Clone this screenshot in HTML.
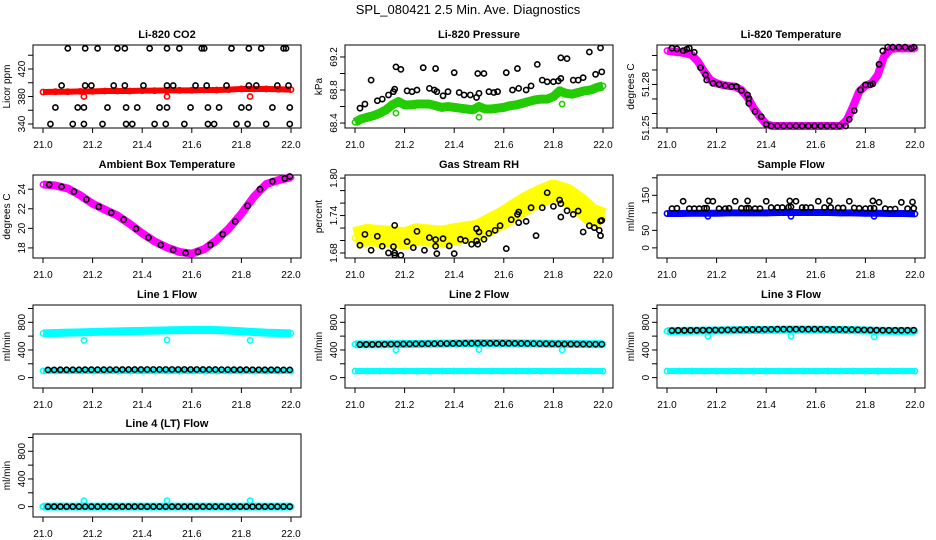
<!DOCTYPE html>
<html><head><meta charset="utf-8">
<style>
html,body{margin:0;padding:0;background:#fff;}
svg{display:block;font-family:"Liberation Sans",Arial,sans-serif;}
</style></head>
<body>
<svg id="chart" width="936" height="540" viewBox="0 0 936 540" xmlns="http://www.w3.org/2000/svg">
<rect width="936" height="540" fill="#fff"/>
<text x="468" y="14" text-anchor="middle" font-size="13">SPL_080421  2.5 Min. Ave. Diagnostics</text>
</svg>
<script>
// ---------- DATA ----------
const xTicks = [21.0, 21.2, 21.4, 21.6, 21.8, 22.0];
const xTickLabels = ["21.0", "21.2", "21.4", "21.6", "21.8", "22.0"];
const bandX = [21.0,21.05,21.1,21.15,21.2,21.25,21.3,21.35,21.4,21.45,21.5,21.55,21.6,21.65,21.7,21.75,21.8,21.85,21.9,21.95,22.0];
const outX = [21.165, 21.5, 21.835];

// CO2
const co2Red = [386.5,387,387,387.5,387.5,388,388,388,388.5,388.5,389,389,389,389.5,389.5,390,391,391,391,390.5,390];
const co2RedOut = [380, 380, 380];
const co2BlackX = [21.10,21.17,21.22,21.30,21.33,21.43,21.50,21.55,21.64,21.65,21.76,21.83,21.88,21.97,21.98,
  21.075,21.17,21.195,21.285,21.33,21.405,21.50,21.525,21.615,21.66,21.74,21.83,21.86,21.945,21.99,
  21.05,21.14,21.165,21.26,21.335,21.38,21.47,21.50,21.595,21.665,21.71,21.80,21.83,21.925,21.995,
  21.03,21.12,21.165,21.24,21.335,21.36,21.45,21.495,21.57,21.665,21.69,21.78,21.825,21.90,21.995];
const co2BlackY = [450,450,450,450,450,450,450,450,450,450,450,450,450,450,450,
  396,396,396,396,396,396,396,396,396,396,396,396,396,396,396,
  364,364,364,364,364,364,364,364,364,364,364,364,364,364,364,
  340,340,340,340,340,340,340,340,340,340,340,340,340,340,340];

// Pressure
const presX = [21.0,21.025,21.05,21.075,21.1,21.125,21.15,21.175,21.2,21.225,21.25,21.275,21.3,21.325,21.35,21.375,21.4,21.425,21.45,21.475,21.5,21.525,21.55,21.575,21.6,21.625,21.65,21.675,21.7,21.725,21.75,21.775,21.8,21.825,21.85,21.875,21.9,21.925,21.95,21.975,22.0];
const presGreen = [68.41,68.45,68.47,68.49,68.52,68.56,68.62,68.66,68.62,68.62,68.63,68.63,68.63,68.61,68.59,68.60,68.59,68.58,68.57,68.56,68.60,68.57,68.57,68.58,68.59,68.61,68.62,68.64,68.66,68.68,68.69,68.69,68.72,68.79,68.76,68.75,68.77,68.79,68.80,68.83,68.85];
const presGreenOut = [68.52, 68.47, 68.63];
const presBlackX = [21.02,21.04,21.065,21.09,21.11,21.135,21.155,21.16,21.165,21.185,21.21,21.23,21.25,21.275,21.30,21.32,21.325,21.33,21.355,21.375,21.40,21.42,21.44,21.465,21.49,21.495,21.50,21.52,21.54,21.56,21.575,21.61,21.635,21.655,21.66,21.69,21.71,21.735,21.755,21.775,21.80,21.82,21.83,21.83,21.855,21.88,21.90,21.92,21.945,21.97,21.99,21.995];
const presBlackY = [68.58,68.63,68.92,68.67,68.69,68.74,68.78,68.81,69.08,69.05,68.79,68.78,68.80,69.07,68.82,68.80,69.06,68.78,68.73,68.78,69.01,68.77,68.74,68.74,68.71,69.00,68.76,69.00,68.78,68.77,68.78,69.01,68.80,69.06,68.82,68.80,68.85,69.11,68.92,68.90,68.90,68.91,68.94,69.19,69.18,68.92,68.92,68.95,69.26,68.99,69.31,69.02];

// Li-820 temperature
const tempMag = [51.3033,51.3026,51.3022,51.3015,51.3003,51.2957,51.2888,51.2831,51.2808,51.2796,51.2789,51.2785,51.2762,51.2711,51.2635,51.2577,51.2527,51.2514,51.2514,51.2514,51.2514,51.2514,51.2514,51.2514,51.2514,51.2514,51.2514,51.2514,51.2514,51.2555,51.2647,51.2751,51.2792,51.2808,51.2865,51.2992,51.3043,51.3049,51.3049,51.3049,51.3049];
const tempBlackX = [21.02,21.04,21.065,21.08,21.09,21.11,21.135,21.155,21.16,21.185,21.21,21.235,21.26,21.28,21.30,21.325,21.33,21.33,21.355,21.38,21.40,21.42,21.445,21.47,21.495,21.52,21.545,21.57,21.595,21.62,21.645,21.67,21.695,21.72,21.735,21.755,21.78,21.80,21.82,21.83,21.855,21.87,21.89,21.91,21.935,21.96,21.985,21.995];
const tempBlackY = [51.3050,51.3045,51.3033,51.3043,51.3050,51.3022,51.2916,51.2866,51.2831,51.2808,51.2801,51.2792,51.2785,51.2785,51.2758,51.2728,51.2705,51.2670,51.2613,51.2578,51.2525,51.2514,51.2514,51.2514,51.2514,51.2514,51.2514,51.2514,51.2514,51.2514,51.2514,51.2514,51.2514,51.2514,51.2560,51.2620,51.2762,51.2797,51.2797,51.2804,51.2939,51.3031,51.3057,51.3057,51.3057,51.3057,51.3050,51.3057];

// Ambient box temperature
const ambMag = [24.48,24.38,24.07,23.38,22.52,21.9,21.31,20.45,19.49,18.66,18.04,17.59,17.42,17.87,18.8,20.0,21.49,23.21,24.52,24.93,25.21];
const ambBlackX = [21.025,21.075,21.125,21.175,21.225,21.275,21.325,21.375,21.425,21.475,21.525,21.575,21.625,21.675,21.725,21.775,21.825,21.875,21.925,21.975,21.995];
const ambBlackY = [24.45,24.25,23.75,22.95,22.2,21.6,20.9,19.95,19.05,18.3,17.8,17.48,17.6,18.3,19.4,20.7,22.3,24.0,24.8,25.1,25.3];

// Gas stream RH
const rhYellow = [1.704,1.709,1.707,1.706,1.703,1.710,1.708,1.706,1.710,1.713,1.716,1.727,1.737,1.750,1.762,1.772,1.780,1.774,1.760,1.742,1.735];
const rhBlackX = [21.02,21.04,21.065,21.09,21.11,21.135,21.155,21.16,21.16,21.16,21.185,21.21,21.235,21.25,21.28,21.30,21.325,21.325,21.33,21.355,21.38,21.40,21.425,21.445,21.47,21.49,21.49,21.495,21.50,21.52,21.54,21.565,21.585,21.61,21.63,21.655,21.66,21.66,21.69,21.71,21.73,21.755,21.775,21.80,21.825,21.83,21.83,21.855,21.88,21.90,21.92,21.945,21.965,21.985,21.99,21.99,21.995];
const rhBlackY = [1.6924,1.7099,1.6844,1.7068,1.6908,1.6801,1.6902,1.7243,1.6801,1.6764,1.6764,1.6982,1.6886,1.7147,1.6844,1.7046,1.7014,1.6908,1.6790,1.7030,1.6913,1.6790,1.7020,1.6998,1.6940,1.7190,1.6993,1.6940,1.7137,1.7020,1.7115,1.7163,1.7238,1.6870,1.7334,1.7419,1.7457,1.7286,1.7307,1.7526,1.7078,1.7526,1.7766,1.7547,1.7649,1.7590,1.7377,1.7478,1.7419,1.7473,1.7137,1.7238,1.7206,1.7163,1.7313,1.7078,1.7323];

// Sample flow
const sampBlue = [98,98,99,99,99,100,100,100,100,101,101,101,101,101,100,100,99,99,98,98,97];
const sampBlueOut = [90, 90, 90];
const sampBlackX = [21.02,21.04,21.065,21.09,21.11,21.13,21.15,21.16,21.165,21.185,21.21,21.235,21.25,21.275,21.30,21.32,21.325,21.33,21.355,21.375,21.40,21.42,21.445,21.465,21.49,21.495,21.50,21.52,21.545,21.56,21.58,21.61,21.635,21.655,21.66,21.69,21.71,21.735,21.755,21.775,21.80,21.82,21.83,21.835,21.855,21.88,21.90,21.92,21.945,21.97,21.99,21.995];
const sampBlackY = [112,113,133,112,112,112,113,113,134,133,112,112,113,133,113,113,134,113,112,112,133,115,115,115,116,134,117,133,115,115,115,133,115,134,115,114,114,133,114,113,112,113,134,113,130,112,110,111,130,112,131,113];

// Line flows
const flowX = [21.02,21.045,21.07,21.095,21.12,21.145,21.17,21.195,21.22,21.245,21.27,21.295,21.32,21.345,21.37,21.395,21.42,21.445,21.47,21.495,21.52,21.545,21.57,21.595,21.62,21.645,21.67,21.695,21.72,21.745,21.77,21.795,21.82,21.845,21.87,21.895,21.92,21.945,21.97,21.995];
const line1CyanHigh = [640,645,650,655,660,665,668,672,676,680,684,686,688,690,686,680,670,660,650,645,640];
const line1CyanLow = [98,97,96,96,95,95,95,95,95,95,95,95,95,95,95,95,95,95,95,95,95];
const line1Out = [538, 545, 538];
const line1Black = [112,112,113,113,114,114,115,115,115,115,116,116,117,117,117,117,118,118,118,118,118,118,118,118,118,117,117,117,116,116,115,115,115,114,114,113,113,113,112,112];
const line2CyanHigh = [482,480,482,484,486,488,490,492,494,496,498,498,498,496,494,492,490,488,486,484,484];
const line2CyanLow = [95,95,95,95,95,95,95,95,95,95,96,95,95,95,95,95,95,95,95,95,95];
const line2Out = [400, 405, 400];
const line2Black = [478,480,480,482,482,484,484,486,486,488,488,490,490,492,492,494,494,496,496,497,497,497,497,496,496,495,494,493,492,490,489,488,487,486,485,484,484,483,483,483];
const line3CyanHigh = [672,676,678,680,682,684,686,688,690,692,694,694,694,692,690,686,682,678,676,674,672];
const line3CyanLow = [95,95,95,95,95,95,95,95,95,95,96,95,95,95,95,95,95,95,95,95,95];
const line3Out = [596, 600, 590];
const line3Black = [680,682,682,684,684,686,686,688,688,690,690,692,694,695,696,698,698,700,700,700,700,700,700,700,699,698,697,696,695,694,692,690,688,686,685,684,684,684,685,686];
const line4Cyan = [0,0,0,0,0,0,0,0,0,0,0,0,0,0,0,0,0,0,0,0,0];
const line4Out = [87, 87, 87];
const line4Black = [0,0,0,0,0,0,0,0,0,0,0,0,0,0,0,0,0,0,0,0,0,0,0,0,0,0,0,0,0,0,0,0,0,0,0,0,0,0,0,0];

// y-axis ticks
const co2Ticks = [340,360,380,400,420,440]; const co2Labels = ["340","","380","","420",""];
const presTicks = [68.4,68.6,68.8,69.0,69.2]; const presLabels = ["68.4","","68.8","","69.2"];
const tempTicks = [51.25,51.26,51.27,51.28,51.29,51.30]; const tempLabels = ["51.25","","","51.28","",""];
const ambTicks = [18,20,22,24]; const ambLabels = ["18","20","22","24"];
const rhTicks = [1.68,1.70,1.72,1.74,1.76,1.78,1.80]; const rhLabels = ["1.68","","","1.74","","","1.80"];
const sampTicks = [0,50,100,150,200]; const sampLabels = ["0","50","","150",""];
const flowTicks = [0,200,400,600,800,1000]; const flowLabels = ["0","","400","","800",""];

// ---------- DRAWING ----------
const NS = "http://www.w3.org/2000/svg";
const svg = document.getElementById("chart");
const COLS = [33, 345, 657], ROWS = [45, 175, 305, 434], W = 268, H = 83;

function mk(tag, attrs, parent) {
  const e = document.createElementNS(NS, tag);
  for (const k in attrs) e.setAttribute(k, attrs[k]);
  parent.appendChild(e);
  return e;
}

function panel(name, title, ytitle, col, row, ymin, ymax, ticks, labels) {
  const L = COLS[col], T = ROWS[row];
  const g = mk("g", {}, svg);
  
  
  const sx = v => L + 10 + (v - 21) * (W - 20);
  const sy = v => T + H - (v - ymin) / (ymax - ymin) * H;
  const box = mk("rect", {x: L, y: T, width: W, height: H, fill: "none", stroke: "#000", "stroke-width": 1}, g);
  
  
  const t = mk("text", {x: L + W / 2, y: T - 7, "text-anchor": "middle", "font-size": 11, "font-weight": "bold"}, g);
  t.textContent = title;
  
  
  const yt = mk("text", {x: 0, y: 0, "text-anchor": "middle", "font-size": 10, transform: `translate(${L - 23},${T + H / 2}) rotate(-90)`}, g);
  yt.textContent = ytitle;
  
  
  xTicks.forEach((v, i) => {
    mk("line", {x1: sx(v), x2: sx(v), y1: T + H, y2: T + H + 5, stroke: "#000"}, g);
    const lt = mk("text", {x: sx(v), y: T + H + 20, "text-anchor": "middle", "font-size": 10}, g);
    lt.textContent = xTickLabels[i];
    
    
  });
  ticks.forEach((v, i) => {
    mk("line", {x1: L - 5, x2: L, y1: sy(v), y2: sy(v), stroke: "#000"}, g);
    if (labels[i]) {
      const lt = mk("text", {x: 0, y: 0, "text-anchor": "middle", "font-size": 10, transform: `translate(${L - 8},${sy(v)}) rotate(-90)`}, g);
      lt.textContent = labels[i];
      
      
    }
  });
  const clip = mk("g", {}, g);
  return {g: clip, sx, sy};
}

function band(p, xs, ys, color, width, name) {
  const pts = xs.map((x, i) => p.sx(x) + "," + p.sy(ys[i])).join(" ");
  const pl = mk("polyline", {points: pts, fill: "none", stroke: color, "stroke-width": width, "stroke-linejoin": "round", "stroke-linecap": "butt"}, p.g);
  
  
  xs.forEach((x, i) => {
    const c = mk("circle", {cx: p.sx(x), cy: p.sy(ys[i]), r: 2.6, fill: "none", stroke: color, "stroke-width": 1.6}, p.g);
    
    
  });
}

function pts(p, xs, ys, color, name) {
  xs.forEach((x, i) => {
    const c = mk("circle", {cx: p.sx(x), cy: p.sy(ys[i]), r: 2.6, fill: "none", stroke: color, "stroke-width": 1.6}, p.g);
    
    
  });
}

let p;
p = panel("co2", "Li-820 CO2", "Licor ppm", 0, 0, 334.2, 454.9, co2Ticks, co2Labels);
band(p, bandX, co2Red, "#ff0000", 6, "co2-series");
pts(p, outX, co2RedOut, "#ff0000", "co2-outlier");
pts(p, co2BlackX, co2BlackY, "#000", "co2-raw-point");

p = panel("pressure", "Li-820 Pressure", "kPa", 1, 0, 68.34, 69.345, presTicks, presLabels);
band(p, presX, presGreen, "#22cc00", 9, "pressure-series");
pts(p, outX, presGreenOut, "#22cc00", "pressure-outlier");
pts(p, presBlackX, presBlackY, "#000", "pressure-raw-point");

p = panel("li820-temp", "Li-820 Temperature", "degrees C", 2, 0, 51.25, 51.3072, tempTicks, tempLabels);
band(p, presX, tempMag, "#ff00ff", 8, "li820-temp-series");
pts(p, tempBlackX, tempBlackY, "#000", "li820-temp-raw-point");

p = panel("ambient", "Ambient Box Temperature", "degrees C", 0, 1, 16.97, 25.45, ambTicks, ambLabels);
band(p, bandX, ambMag, "#ff00ff", 8, "ambient-series");
pts(p, ambBlackX, ambBlackY, "#000", "ambient-raw-point");

p = panel("rh", "Gas Stream RH", "percent", 1, 1, 1.672, 1.805, rhTicks, rhLabels);
band(p, bandX, rhYellow, "#ffff00", 22, "rh-series");
pts(p, rhBlackX, rhBlackY, "#000", "rh-raw-point");

p = panel("sample-flow", "Sample Flow", "ml/min", 2, 1, -28.9, 208, sampTicks, sampLabels);
band(p, bandX, sampBlue, "#0000ff", 7, "sample-flow-series");
pts(p, outX, sampBlueOut, "#0000ff", "sample-flow-outlier");
pts(p, sampBlackX, sampBlackY, "#000", "sample-flow-raw-point");

const flowPanels = [
  ["line1", "Line 1 Flow", 0, 2, line1CyanHigh, line1CyanLow, line1Out, line1Black],
  ["line2", "Line 2 Flow", 1, 2, line2CyanHigh, line2CyanLow, line2Out, line2Black],
  ["line3", "Line 3 Flow", 2, 2, line3CyanHigh, line3CyanLow, line3Out, line3Black],
  ["line4", "Line 4 (LT) Flow", 0, 3, line4Cyan, line4Cyan, line4Out, line4Black]
];
flowPanels.forEach(f => {
  const q = panel(f[0], f[1], "ml/min", f[2], f[3], -150, 1050, flowTicks, flowLabels);
  band(q, bandX, f[4], "#00ffff", 8, f[0] + "-series-a");
  band(q, bandX, f[5], "#00ffff", 6, f[0] + "-series-b");
  pts(q, outX, f[6], "#00ffff", f[0] + "-outlier");
  pts(q, flowX, f[7], "#000", f[0] + "-raw-point");
});
</script>
</body></html>
